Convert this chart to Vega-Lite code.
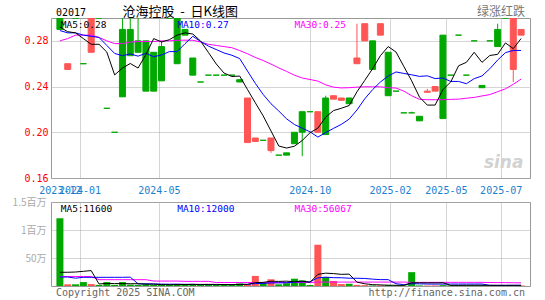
{
  "$schema": "https://vega.github.io/schema/vega-lite/v6.json",
  "background": "white",
  "padding": {"left": 5, "top": 5, "right": 15, "bottom": 2},
  "spacing": 0,
  "config": {
    "view": {"stroke": "#999999", "strokeWidth": 1},
    "axis": {"domain": false, "ticks": false, "gridColor": "#aaaaaa", "gridDash": [1, 1], "labelFont": "DejaVu Sans Mono"},
    "text": {"font": "DejaVu Sans Mono"}
  },
  "datasets": {
    "k": [
      {"i":0,"o":0.29,"c":0.30,"h":0.30,"l":0.29,"d":"up","m5":0.292,"m10":0.289,"m30":0.280,"v":1210000,"v5":245000,"v10":160000,"v30":170000},
      {"i":1,"o":0.26,"c":0.255,"h":0.26,"l":0.255,"d":"down","m5":0.288,"m10":0.287,"m30":0.282,"v":30000,"v5":245000,"v10":160000,"v30":170000},
      {"i":2,"o":0.30,"c":0.30,"h":0.30,"l":0.30,"d":"up","m5":0.287,"m10":0.287,"m30":0.285,"v":30000,"v5":250000,"v10":140000,"v30":170000},
      {"i":3,"o":0.26,"c":0.26,"h":0.26,"l":0.26,"d":"up","m5":0.282,"m10":0.285,"m30":0.285,"v":70000,"v5":262000,"v10":155000,"v30":170000},
      {"i":4,"o":0.30,"c":0.27,"h":0.30,"l":0.27,"d":"down","m5":0.277,"m10":0.284,"m30":0.285,"v":35000,"v5":275000,"v10":155000,"v30":170000},
      {"i":5,"o":0.30,"c":0.30,"h":0.30,"l":0.30,"d":"up","m5":0.277,"m10":0.283,"m30":0.283,"v":20000,"v5":37000,"v10":155000,"v30":113000},
      {"i":6,"o":0.221,"c":0.221,"h":0.221,"l":0.221,"d":"up","m5":0.2702,"m10":0.276,"m30":0.280,"v":70000,"v5":45000,"v10":155000,"v30":113000},
      {"i":7,"o":0.20,"c":0.20,"h":0.20,"l":0.20,"d":"up","m5":0.2502,"m10":0.269,"m30":0.2776,"v":20000,"v5":43000,"v10":155000,"v30":113000},
      {"i":8,"o":0.231,"c":0.29,"h":0.30,"l":0.231,"d":"up","m5":0.2562,"m10":0.267,"m30":0.2776,"v":70000,"v5":43000,"v10":155000,"v30":113000},
      {"i":9,"o":0.267,"c":0.29,"h":0.30,"l":0.267,"d":"up","m5":0.2602,"m10":0.2686,"m30":0.279,"v":25000,"v5":41000,"v10":158000,"v30":113000},
      {"i":10,"o":0.27,"c":0.28,"h":0.30,"l":0.27,"d":"up","m5":0.2562,"m10":0.2666,"m30":0.2794,"v":20000,"v5":41000,"v10":39000,"v30":113000},
      {"i":11,"o":0.236,"c":0.28,"h":0.28,"l":0.236,"d":"up","m5":0.268,"m10":0.2691,"m30":0.2794,"v":30000,"v5":33000,"v10":39000,"v30":113000},
      {"i":12,"o":0.236,"c":0.27,"h":0.27,"l":0.236,"d":"up","m5":0.282,"m10":0.2661,"m30":0.2794,"v":20000,"v5":33000,"v10":38000,"v30":88000},
      {"i":13,"o":0.245,"c":0.275,"h":0.28,"l":0.245,"d":"up","m5":0.279,"m10":0.2676,"m30":0.280,"v":25000,"v5":24000,"v10":33500,"v30":88000},
      {"i":14,"o":0.30,"c":0.30,"h":0.30,"l":0.30,"d":"up","m5":0.281,"m10":0.2706,"m30":0.280,"v":20000,"v5":23000,"v10":32000,"v30":88000},
      {"i":15,"o":0.26,"c":0.30,"h":0.30,"l":0.26,"d":"up","m5":0.285,"m10":0.2706,"m30":0.2805,"v":30000,"v5":25000,"v10":33000,"v30":88000},
      {"i":16,"o":0.285,"c":0.29,"h":0.29,"l":0.285,"d":"up","m5":0.287,"m10":0.2775,"m30":0.2806,"v":35000,"v5":26000,"v10":29500,"v30":83000},
      {"i":17,"o":0.25,"c":0.265,"h":0.265,"l":0.25,"d":"up","m5":0.286,"m10":0.284,"m30":0.2805,"v":30000,"v5":28000,"v10":30500,"v30":83000},
      {"i":18,"o":0.244,"c":0.244,"h":0.244,"l":0.244,"d":"up","m5":0.2798,"m10":0.2794,"m30":0.279,"v":25000,"v5":28000,"v10":26000,"v30":83000},
      {"i":19,"o":0.25,"c":0.25,"h":0.25,"l":0.25,"d":"up","m5":0.2698,"m10":0.2754,"m30":0.277,"v":25000,"v5":29000,"v10":26000,"v30":83000},
      {"i":20,"o":0.25,"c":0.25,"h":0.25,"l":0.25,"d":"up","m5":0.2598,"m10":0.2724,"m30":0.276,"v":25000,"v5":28000,"v10":26500,"v30":62000},
      {"i":21,"o":0.25,"c":0.25,"h":0.25,"l":0.25,"d":"up","m5":0.2518,"m10":0.2694,"m30":0.275,"v":25000,"v5":26000,"v10":26000,"v30":62000},
      {"i":22,"o":0.25,"c":0.25,"h":0.25,"l":0.25,"d":"up","m5":0.2488,"m10":0.2674,"m30":0.274,"v":20000,"v5":24000,"v10":26000,"v30":62000},
      {"i":23,"o":0.244,"c":0.246,"h":0.246,"l":0.244,"d":"up","m5":0.2492,"m10":0.2645,"m30":0.2715,"v":45000,"v5":28000,"v10":28000,"v30":62000},
      {"i":24,"o":0.23,"c":0.191,"h":0.23,"l":0.191,"d":"down","m5":0.2374,"m10":0.2536,"m30":0.2687,"v":30000,"v5":29000,"v10":29000,"v30":62000},
      {"i":25,"o":0.195,"c":0.192,"h":0.195,"l":0.192,"d":"down","m5":0.2258,"m10":0.2428,"m30":0.2655,"v":180000,"v5":60000,"v10":44000,"v30":62000},
      {"i":26,"o":0.193,"c":0.193,"h":0.193,"l":0.193,"d":"up","m5":0.2144,"m10":0.2331,"m30":0.2628,"v":50000,"v5":65000,"v10":45500,"v30":62000},
      {"i":27,"o":0.195,"c":0.184,"h":0.195,"l":0.182,"d":"down","m5":0.2012,"m10":0.225,"m30":0.2597,"v":120000,"v5":85000,"v10":54500,"v30":62000},
      {"i":28,"o":0.18,"c":0.18,"h":0.18,"l":0.18,"d":"up","m5":0.188,"m10":0.2186,"m30":0.2563,"v":30000,"v5":82000,"v10":55000,"v30":62000},
      {"i":29,"o":0.18,"c":0.182,"h":0.182,"l":0.18,"d":"up","m5":0.1862,"m10":0.2118,"m30":0.2533,"v":50000,"v5":86000,"v10":57500,"v30":62000},
      {"i":30,"o":0.19,"c":0.20,"h":0.20,"l":0.19,"d":"up","m5":0.1878,"m10":0.2068,"m30":0.250,"v":130000,"v5":76000,"v10":68000,"v30":62000},
      {"i":31,"o":0.20,"c":0.218,"h":0.218,"l":0.179,"d":"up","m5":0.1928,"m10":0.2036,"m30":0.2475,"v":100000,"v5":86000,"v10":75500,"v30":62000},
      {"i":32,"o":0.218,"c":0.218,"h":0.218,"l":0.218,"d":"up","m5":0.1996,"m10":0.2004,"m30":0.2462,"v":20000,"v5":66000,"v10":75500,"v30":62000},
      {"i":33,"o":0.218,"c":0.20,"h":0.218,"l":0.20,"d":"down","m5":0.2036,"m10":0.1958,"m30":0.2448,"v":737000,"v5":207400,"v10":144700,"v30":70000},
      {"i":34,"o":0.198,"c":0.23,"h":0.232,"l":0.198,"d":"up","m5":0.2132,"m10":0.1997,"m30":0.2415,"v":160000,"v5":229400,"v10":157700,"v30":70000},
      {"i":35,"o":0.232,"c":0.229,"h":0.232,"l":0.229,"d":"down","m5":0.219,"m10":0.2034,"m30":0.2395,"v":90000,"v5":221400,"v10":148700,"v30":70000},
      {"i":36,"o":0.23,"c":0.228,"h":0.23,"l":0.228,"d":"down","m5":0.221,"m10":0.2069,"m30":0.2388,"v":35000,"v5":208400,"v10":147200,"v30":70000},
      {"i":37,"o":0.225,"c":0.23,"h":0.23,"l":0.225,"d":"up","m5":0.2234,"m10":0.2115,"m30":0.239,"v":40000,"v5":212400,"v10":139200,"v30":70000},
      {"i":38,"o":0.265,"c":0.26,"h":0.295,"l":0.26,"d":"down","m5":0.2354,"m10":0.2195,"m30":0.2395,"v":20000,"v5":69000,"v10":138200,"v30":70000},
      {"i":39,"o":0.295,"c":0.28,"h":0.295,"l":0.28,"d":"down","m5":0.2454,"m10":0.2293,"m30":0.2398,"v":15000,"v5":40000,"v10":134700,"v30":70000},
      {"i":40,"o":0.255,"c":0.28,"h":0.28,"l":0.255,"d":"up","m5":0.2556,"m10":0.2373,"m30":0.2398,"v":10000,"v5":24000,"v10":122700,"v30":70000},
      {"i":41,"o":0.295,"c":0.285,"h":0.295,"l":0.285,"d":"down","m5":0.267,"m10":0.244,"m30":0.2398,"v":12000,"v5":19400,"v10":113900,"v30":70000},
      {"i":42,"o":0.232,"c":0.27,"h":0.27,"l":0.232,"d":"up","m5":0.275,"m10":0.2492,"m30":0.239,"v":15000,"v5":14400,"v10":113400,"v30":70000},
      {"i":43,"o":0.236,"c":0.236,"h":0.236,"l":0.236,"d":"up","m5":0.2702,"m10":0.2528,"m30":0.2387,"v":8000,"v5":12000,"v10":40500,"v30":70000},
      {"i":44,"o":0.217,"c":0.217,"h":0.217,"l":0.217,"d":"up","m5":0.2576,"m10":0.2515,"m30":0.236,"v":8000,"v5":10600,"v10":25300,"v30":70000},
      {"i":45,"o":0.217,"c":0.217,"h":0.218,"l":0.217,"d":"up","m5":0.245,"m10":0.2503,"m30":0.232,"v":247000,"v5":58000,"v10":41000,"v30":65000},
      {"i":46,"o":0.21,"c":0.214,"h":0.214,"l":0.21,"d":"up","m5":0.2308,"m10":0.2489,"m30":0.2288,"v":10000,"v5":57600,"v10":38500,"v30":65000},
      {"i":47,"o":0.236,"c":0.235,"h":0.238,"l":0.235,"d":"down","m5":0.2238,"m10":0.2494,"m30":0.2285,"v":8000,"v5":56200,"v10":35300,"v30":65000},
      {"i":48,"o":0.24,"c":0.236,"h":0.24,"l":0.236,"d":"down","m5":0.2238,"m10":0.247,"m30":0.2285,"v":10000,"v5":56600,"v10":34300,"v30":65000},
      {"i":49,"o":0.212,"c":0.285,"h":0.285,"l":0.212,"d":"up","m5":0.2374,"m10":0.2475,"m30":0.2285,"v":15000,"v5":58000,"v10":34300,"v30":65000},
      {"i":50,"o":0.25,"c":0.25,"h":0.25,"l":0.25,"d":"up","m5":0.244,"m10":0.2445,"m30":0.2288,"v":12000,"v5":11000,"v10":34500,"v30":65000},
      {"i":51,"o":0.285,"c":0.285,"h":0.285,"l":0.285,"d":"up","m5":0.2582,"m10":0.2445,"m30":0.229,"v":14000,"v5":11800,"v10":34700,"v30":65000},
      {"i":52,"o":0.25,"c":0.25,"h":0.25,"l":0.25,"d":"up","m5":0.2612,"m10":0.2425,"m30":0.2298,"v":12000,"v5":12600,"v10":34400,"v30":65000},
      {"i":53,"o":0.28,"c":0.28,"h":0.28,"l":0.28,"d":"up","m5":0.27,"m10":0.2469,"m30":0.2305,"v":12000,"v5":13000,"v10":34800,"v30":65000},
      {"i":54,"o":0.239,"c":0.241,"h":0.241,"l":0.239,"d":"up","m5":0.2612,"m10":0.2493,"m30":0.2318,"v":12000,"v5":12400,"v10":35200,"v30":65000},
      {"i":55,"o":0.28,"c":0.28,"h":0.28,"l":0.28,"d":"up","m5":0.2672,"m10":0.2556,"m30":0.233,"v":10000,"v5":12000,"v10":11500,"v30":62000},
      {"i":56,"o":0.275,"c":0.29,"h":0.295,"l":0.275,"d":"up","m5":0.2682,"m10":0.2632,"m30":0.2355,"v":12000,"v5":11600,"v10":11700,"v30":61000},
      {"i":57,"o":0.30,"c":0.30,"h":0.30,"l":0.30,"d":"up","m5":0.2782,"m10":0.2697,"m30":0.238,"v":10000,"v5":11200,"v10":11900,"v30":60000},
      {"i":58,"o":0.30,"c":0.255,"h":0.30,"l":0.244,"d":"down","m5":0.2732,"m10":0.2716,"m30":0.242,"v":16000,"v5":12000,"v10":12500,"v30":58000},
      {"i":59,"o":0.29,"c":0.285,"h":0.29,"l":0.285,"d":"down","m5":0.282,"m10":0.2716,"m30":0.2465,"v":10000,"v5":11600,"v10":12000,"v30":56067}
    ]
  },
  "vconcat": [
    {
      "width": 479,
      "height": 160,
      "data": {"name": "k"},
      "layer": [
        {
          "mark": {"type": "rule", "strokeWidth": 1, "clip": true},
          "encoding": {
            "x": {
              "field": "i", "type": "quantitative", "title": null,
              "scale": {"domain": [-0.5, 59.5], "nice": false, "zero": false},
              "axis": {
                "values": [0, 2.51, 12.66, 31.96, 42.23, 49.38, 56.39],
                "labelExpr": "datum.value < 1 ? '2023-12' : datum.value < 5 ? '2024-01' : datum.value < 20 ? '2024-05' : datum.value < 40 ? '2024-10' : datum.value < 45 ? '2025-02' : datum.value < 53 ? '2025-05' : '2025-07'",
                "labelColor": "#1a7fd0", "labelFontSize": 10, "labelPadding": 7,
                "labelOverlap": false, "labelFlush": false, "labelBound": false,
                "grid": true,
                "gridOpacity": {"condition": {"test": "datum.value < 1", "value": 0}, "value": 1}
              }
            },
            "y": {
              "field": "l", "type": "quantitative", "title": null,
              "scale": {"domain": [0.16, 0.30], "nice": false, "zero": false},
              "axis": {
                "values": [0.16, 0.18, 0.20, 0.22, 0.24, 0.26, 0.28, 0.30],
                "format": ".2f", "labelColor": "#ff0000", "labelFontSize": 10,
                "labelPadding": 3, "minExtent": 45, "maxExtent": 45, "grid": true, "labelFlush": false
              }
            },
            "y2": {"field": "h"},
            "color": {"field": "d", "type": "nominal", "scale": {"domain": ["up", "down"], "range": ["#00a800", "#ff5555"]}, "legend": null}
          }
        },
        {
          "mark": {"type": "bar", "size": 6, "strokeWidth": 1, "clip": true},
          "encoding": {
            "x": {"field": "i", "type": "quantitative"},
            "y": {"field": "o", "type": "quantitative", "title": null},
            "y2": {"field": "c"},
            "color": {"field": "d", "type": "nominal", "scale": {"domain": ["up", "down"], "range": ["#00a800", "#ff5555"]}, "legend": null},
            "stroke": {"field": "d", "type": "nominal", "scale": {"domain": ["up", "down"], "range": ["#00a800", "#ff5555"]}, "legend": null}
          }
        },
        {
          "mark": {"type": "line", "color": "#ff00ff", "strokeWidth": 1, "clip": true},
          "encoding": {"x": {"field": "i", "type": "quantitative"}, "y": {"field": "m30", "type": "quantitative", "title": null}}
        },
        {
          "mark": {"type": "line", "color": "#0000ff", "strokeWidth": 1, "clip": true},
          "encoding": {"x": {"field": "i", "type": "quantitative"}, "y": {"field": "m10", "type": "quantitative", "title": null}}
        },
        {
          "mark": {"type": "line", "color": "#000000", "strokeWidth": 1, "clip": true},
          "encoding": {"x": {"field": "i", "type": "quantitative"}, "y": {"field": "m5", "type": "quantitative", "title": null}}
        },
        {
          "transform": [{"filter": "datum.i == 0"}],
          "mark": {"type": "text", "align": "left", "baseline": "top", "dy": 2, "fontSize": 9.5, "color": "#000000", "text": "MA5:0.28"},
          "encoding": {"x": {"datum": 0.1}, "y": {"datum": 0.30}}
        },
        {
          "transform": [{"filter": "datum.i == 0"}],
          "mark": {"type": "text", "align": "left", "baseline": "top", "dy": 2, "fontSize": 9.5, "color": "#0000ff", "text": "MA10:0.27"},
          "encoding": {"x": {"datum": 15.0}, "y": {"datum": 0.30}}
        },
        {
          "transform": [{"filter": "datum.i == 0"}],
          "mark": {"type": "text", "align": "left", "baseline": "top", "dy": 2, "fontSize": 9.5, "color": "#ff00ff", "text": "MA30:0.25"},
          "encoding": {"x": {"datum": 30.0}, "y": {"datum": 0.30}}
        },
        {
          "transform": [{"filter": "datum.i == 0"}],
          "mark": {"type": "text", "align": "left", "baseline": "alphabetic", "dy": -2, "fontSize": 10, "color": "#000000", "text": "02017"},
          "encoding": {"x": {"datum": -0.5}, "y": {"datum": 0.30}}
        },
        {
          "transform": [{"filter": "datum.i == 0"}],
          "mark": {"type": "text", "align": "left", "baseline": "alphabetic", "dy": -2, "fontSize": 13, "font": "Noto Sans CJK SC", "color": "#000000", "text": "沧海控股\u00a0\u00a0-\u00a0\u00a0日K线图"},
          "encoding": {"x": {"datum": 8.0}, "y": {"datum": 0.30}}
        },
        {
          "transform": [{"filter": "datum.i == 0"}],
          "mark": {"type": "text", "align": "right", "baseline": "alphabetic", "dy": -2, "fontSize": 12, "font": "Noto Sans CJK SC", "color": "#777777", "text": "绿涨红跌"},
          "encoding": {"x": {"datum": 59.5}, "y": {"datum": 0.30}}
        },
        {
          "transform": [{"filter": "datum.i == 0"}],
          "mark": {"type": "text", "align": "right", "baseline": "bottom", "fontSize": 17, "font": "DejaVu Sans", "fontWeight": "bold", "fontStyle": "italic", "color": "#d2d2d2", "text": "sina"},
          "encoding": {"x": {"datum": 59.3}, "y": {"datum": 0.165}}
        }
      ]
    },
    {
      "width": 479,
      "height": 84,
      "data": {"name": "k"},
      "layer": [
        {
          "mark": {"type": "bar", "size": 7, "clip": true},
          "encoding": {
            "x": {
              "field": "i", "type": "quantitative", "title": null,
              "scale": {"domain": [-0.5, 59.5], "nice": false, "zero": false},
              "axis": {"values": [2.51, 12.66, 31.96, 42.23, 49.38, 56.39], "labels": false, "grid": true}
            },
            "y": {
              "field": "v", "type": "quantitative", "title": null,
              "scale": {"domain": [0, 1500000], "nice": false},
              "axis": {
                "values": [500000, 1000000, 1500000],
                "labelExpr": "datum.value >= 1400000 ? '1.5百万' : datum.value >= 900000 ? '1百万' : '50万'",
                "labelFont": "Noto Sans CJK SC", "labelColor": "#aaaaaa", "labelFontSize": 10,
                "labelPadding": 5, "minExtent": 45, "maxExtent": 45, "grid": true, "labelFlush": false
              }
            },
            "color": {"field": "d", "type": "nominal", "scale": {"domain": ["up", "down"], "range": ["#00a800", "#ff5555"]}, "legend": null}
          }
        },
        {
          "mark": {"type": "line", "color": "#ff00ff", "strokeWidth": 1, "clip": true},
          "encoding": {"x": {"field": "i", "type": "quantitative"}, "y": {"field": "v30", "type": "quantitative", "title": null}}
        },
        {
          "mark": {"type": "line", "color": "#0000ff", "strokeWidth": 1, "clip": true},
          "encoding": {"x": {"field": "i", "type": "quantitative"}, "y": {"field": "v10", "type": "quantitative", "title": null}}
        },
        {
          "mark": {"type": "line", "color": "#000000", "strokeWidth": 1, "clip": true},
          "encoding": {"x": {"field": "i", "type": "quantitative"}, "y": {"field": "v5", "type": "quantitative", "title": null}}
        },
        {
          "transform": [{"filter": "datum.i == 0"}],
          "mark": {"type": "text", "align": "left", "baseline": "top", "dy": 2, "fontSize": 9.5, "color": "#000000", "text": "MA5:11600"},
          "encoding": {"x": {"datum": 0.1}, "y": {"datum": 1500000}}
        },
        {
          "transform": [{"filter": "datum.i == 0"}],
          "mark": {"type": "text", "align": "left", "baseline": "top", "dy": 2, "fontSize": 9.5, "color": "#0000ff", "text": "MA10:12000"},
          "encoding": {"x": {"datum": 15.0}, "y": {"datum": 1500000}}
        },
        {
          "transform": [{"filter": "datum.i == 0"}],
          "mark": {"type": "text", "align": "left", "baseline": "top", "dy": 2, "fontSize": 9.5, "color": "#ff00ff", "text": "MA30:56067"},
          "encoding": {"x": {"datum": 30.0}, "y": {"datum": 1500000}}
        },
        {
          "transform": [{"filter": "datum.i == 0"}],
          "mark": {"type": "text", "align": "left", "baseline": "top", "dy": 2, "fontSize": 10, "color": "#666666", "text": "Copyright 2025 SINA.COM"},
          "encoding": {"x": {"datum": -0.5}, "y": {"datum": 0}}
        },
        {
          "transform": [{"filter": "datum.i == 0"}],
          "mark": {"type": "text", "align": "right", "baseline": "top", "dy": 2, "fontSize": 10, "color": "#666666", "text": "http://finance.sina.com.cn"},
          "encoding": {"x": {"datum": 59.5}, "y": {"datum": 0}}
        }
      ]
    }
  ]
}
